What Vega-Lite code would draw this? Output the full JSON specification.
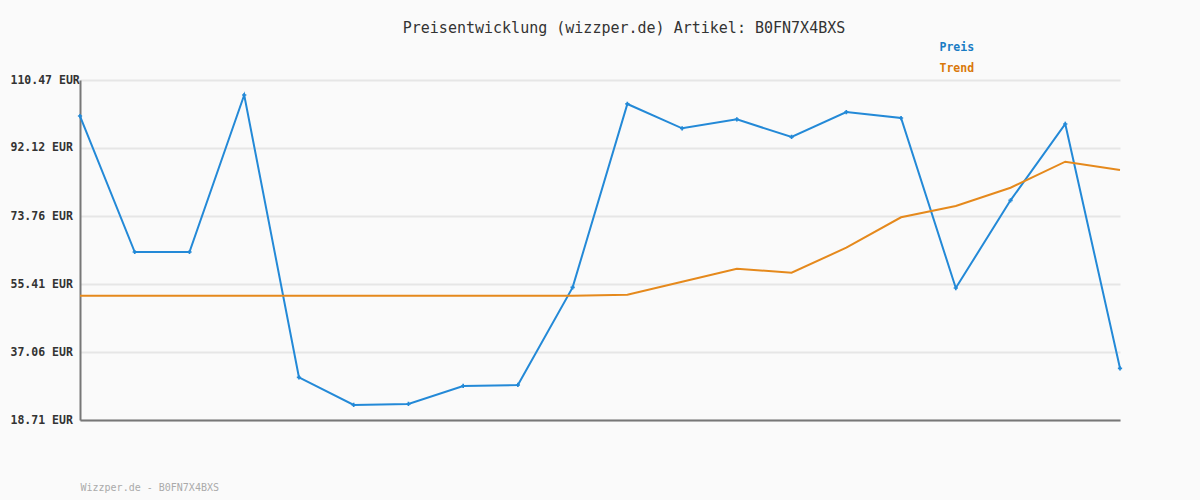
{
  "$schema": "https://vega.github.io/schema/vega-lite/v6.json",
  "autosize": "none",
  "width": 1040,
  "height": 340,
  "padding": {"left": 80, "top": 80, "right": 80, "bottom": 80},
  "background": "#fafafa",
  "config": {"view": {"stroke": null}, "font": "DejaVu Sans Mono"},
  "title": {
    "text": "Preisentwicklung (wizzper.de) Artikel: B0FN7X4BXS",
    "anchor": "middle",
    "frame": "group",
    "dx": 24,
    "offset": 6,
    "font": "DejaVu Sans Mono",
    "fontSize": 15,
    "fontWeight": "normal",
    "color": "#333333"
  },
  "data": {
    "values": [
      {"i": 0, "serie": "Preis", "wert": 100.75},
      {"i": 1, "serie": "Preis", "wert": 64.05},
      {"i": 2, "serie": "Preis", "wert": 64.05},
      {"i": 3, "serie": "Preis", "wert": 106.42},
      {"i": 4, "serie": "Preis", "wert": 30.23},
      {"i": 5, "serie": "Preis", "wert": 22.76},
      {"i": 6, "serie": "Preis", "wert": 23.03},
      {"i": 7, "serie": "Preis", "wert": 27.89},
      {"i": 8, "serie": "Preis", "wert": 28.16},
      {"i": 9, "serie": "Preis", "wert": 54.5},
      {"i": 10, "serie": "Preis", "wert": 104.0},
      {"i": 11, "serie": "Preis", "wert": 97.43},
      {"i": 12, "serie": "Preis", "wert": 99.86},
      {"i": 13, "serie": "Preis", "wert": 95.09},
      {"i": 14, "serie": "Preis", "wert": 101.83},
      {"i": 15, "serie": "Preis", "wert": 100.21},
      {"i": 16, "serie": "Preis", "wert": 54.33},
      {"i": 17, "serie": "Preis", "wert": 78.0},
      {"i": 18, "serie": "Preis", "wert": 98.6},
      {"i": 19, "serie": "Preis", "wert": 32.66},
      {"i": 0, "serie": "Trend", "wert": 52.26},
      {"i": 1, "serie": "Trend", "wert": 52.26},
      {"i": 2, "serie": "Trend", "wert": 52.26},
      {"i": 3, "serie": "Trend", "wert": 52.26},
      {"i": 4, "serie": "Trend", "wert": 52.26},
      {"i": 5, "serie": "Trend", "wert": 52.26},
      {"i": 6, "serie": "Trend", "wert": 52.26},
      {"i": 7, "serie": "Trend", "wert": 52.26},
      {"i": 8, "serie": "Trend", "wert": 52.26},
      {"i": 9, "serie": "Trend", "wert": 52.26},
      {"i": 10, "serie": "Trend", "wert": 52.53},
      {"i": 11, "serie": "Trend", "wert": 56.04},
      {"i": 12, "serie": "Trend", "wert": 59.55},
      {"i": 13, "serie": "Trend", "wert": 58.47},
      {"i": 14, "serie": "Trend", "wert": 65.21},
      {"i": 15, "serie": "Trend", "wert": 73.42},
      {"i": 16, "serie": "Trend", "wert": 76.46},
      {"i": 17, "serie": "Trend", "wert": 81.4},
      {"i": 18, "serie": "Trend", "wert": 88.43},
      {"i": 19, "serie": "Trend", "wert": 86.18}
    ]
  },
  "encoding": {
    "x": {
      "field": "i",
      "type": "quantitative",
      "scale": {"domain": [0, 19], "nice": false, "zero": false},
      "axis": {
        "title": "Wizzper.de - B0FN7X4BXS",
        "titleAnchor": "start",
        "titleAlign": "left",
        "titleBaseline": "alphabetic",
        "titlePadding": 70,
        "titleFont": "DejaVu Sans Mono",
        "titleFontSize": 10,
        "titleFontWeight": "normal",
        "titleColor": "#aaaaaa",
        "labels": false,
        "ticks": false,
        "grid": false,
        "domainColor": "#777777",
        "domainWidth": 2
      }
    },
    "y": {
      "field": "wert",
      "type": "quantitative",
      "scale": {"domain": [18.71, 110.47], "nice": false, "zero": false},
      "axis": {
        "title": null,
        "values": [18.71, 37.06, 55.41, 73.76, 92.12, 110.47],
        "labelExpr": "format(datum.value, '.2f') + ' EUR'",
        "labelAlign": "left",
        "labelPadding": 70,
        "labelFont": "DejaVu Sans Mono",
        "labelFontSize": 11.5,
        "labelFontWeight": "bold",
        "labelColor": "#333333",
        "ticks": false,
        "grid": true,
        "gridColor": "#e6e6e6",
        "gridWidth": 2,
        "domainColor": "#777777",
        "domainWidth": 2
      }
    },
    "color": {
      "field": "serie",
      "type": "nominal",
      "scale": {"domain": ["Preis", "Trend"], "range": ["#2389d7", "#e5891c"]},
      "legend": {
        "title": null,
        "orient": "none",
        "legendX": 848,
        "legendY": -38,
        "symbolSize": 0,
        "symbolStrokeWidth": 0,
        "symbolOpacity": 0,
        "labelOffset": 0,
        "labelFont": "DejaVu Sans Mono",
        "labelFontSize": 11.5,
        "labelFontWeight": "bold",
        "rowPadding": 8,
        "encode": {
          "labels": {
            "update": {
              "fill": {"signal": "datum.value === 'Preis' ? '#1a7cc4' : '#d9780a'"}
            }
          }
        }
      }
    }
  },
  "layer": [
    {
      "mark": {"type": "line", "strokeWidth": 2}
    },
    {
      "transform": [{"filter": "datum.serie === 'Preis'"}],
      "mark": {"type": "point", "shape": "cross", "size": 18, "filled": true, "opacity": 1}
    }
  ]
}
